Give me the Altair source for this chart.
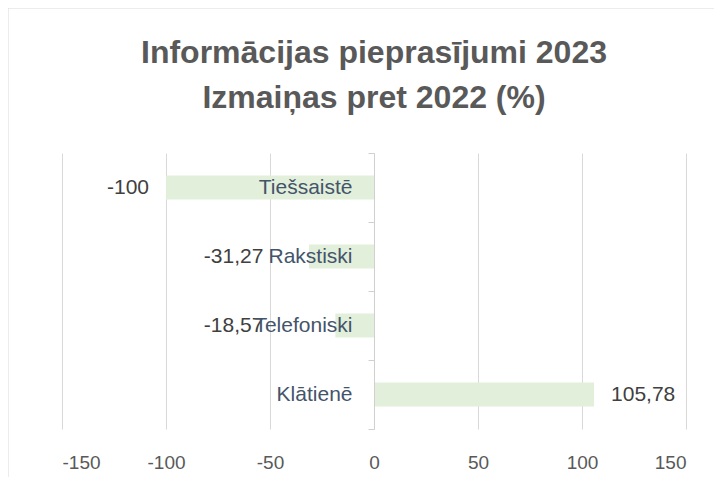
import altair as alt
import pandas as pd

categories = ["Tiešsaistē", "Rakstiski", "Telefoniski", "Klātienē"]
values = [-100, -31.27, -18.57, 105.78]
tick_values = [-150, -100, -50, 0, 50, 100, 150]
title_lines = ["Informācijas pieprasījumi 2023", "Izmaiņas pret 2022 (%)"]

df = pd.DataFrame({"cat": categories, "value": values})
df["label"] = [f"{v:g}".replace(".", ",") for v in values]

FONT = "Liberation Sans"
xscale = alt.Scale(domain=[-150, 150], nice=False, zero=False)
xaxis = alt.Axis(values=tick_values, grid=True, gridColor="#d9d9d9", gridWidth=1,
                 domain=False, ticks=False, labelFontSize=19, labelColor="#595959",
                 labelPadding=24, title=None, labelFont=FONT,
                 labelExpr="datum.value < 0 ? '-' + abs(datum.value) : '' + datum.value")
yaxis = alt.Axis(orient="left", offset=-312, domainColor="#d0d0d0", tickColor="#d0d0d0",
                 tickSize=6, tickBand="extent", labelFontSize=21, labelColor="#44546a",
                 labelPadding=16, title=None, zindex=1, grid=False, labelFont=FONT)
yscale = alt.Scale(paddingInner=0, paddingOuter=0)

def Y():
    return alt.Y("cat:N", sort=categories, scale=yscale, axis=yaxis)

base = alt.Chart(df)
bars = base.mark_bar(color="#e2efda", size=24).encode(
    x=alt.X("value:Q", scale=xscale, axis=xaxis), y=Y())

neg = base.transform_filter("datum.value < 0").transform_calculate(
    lx="min(datum.value, -45)").mark_text(
    align="right", baseline="middle", dx=-17, fontSize=21, font=FONT, color="#404040").encode(
    x=alt.X("lx:Q", scale=xscale, axis=xaxis), y=Y(), text="label:N")

pos = base.transform_filter("datum.value >= 0").mark_text(
    align="left", baseline="middle", dx=17, fontSize=21, font=FONT, color="#404040").encode(
    x=alt.X("value:Q", scale=xscale, axis=xaxis), y=Y(), text="label:N")

one = alt.Chart(pd.DataFrame({"a": [0]}))
top_border = one.mark_rule(color="#d9d9d9", strokeWidth=1).encode(
    x=alt.value(-54), x2=alt.value(652), y=alt.value(-145))
left_border = one.mark_rule(color="#d9d9d9", strokeWidth=1).encode(
    x=alt.value(-54), y=alt.value(-145), y2=alt.value(330))

title_style = dict(align="center", baseline="alphabetic", fontSize=32, font=FONT,
                   fontWeight="bold", color="#595959")
title1 = one.mark_text(**title_style).encode(
    x=alt.value(312), y=alt.value(-90), text=alt.value(title_lines[0]))
title2 = one.mark_text(**title_style).encode(
    x=alt.value(312), y=alt.value(-45), text=alt.value(title_lines[1]))

chart = alt.layer(bars, neg, pos, top_border, left_border, title1, title2).properties(
    width=624, height=276,
    padding={"left": 54, "top": 145, "right": 28, "bottom": 48},
    autosize=alt.AutoSizeParams(type="none"),
).configure(background="white").configure_view(stroke=None)

chart.save("out.html", embed_options={"renderer": "svg", "actions": False})
